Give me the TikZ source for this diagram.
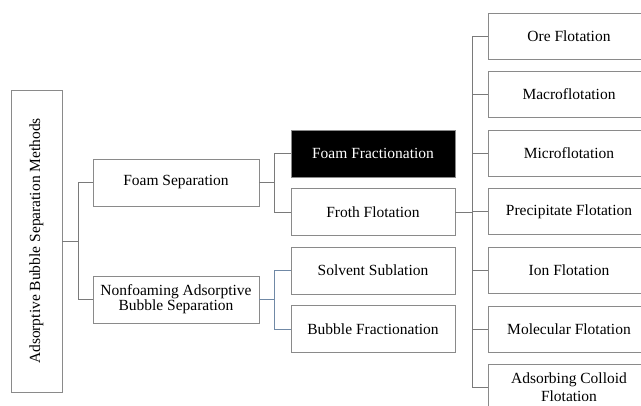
\documentclass[tikz,border=0pt]{standalone}
\usepackage{fontspec}
\setmainfont{Liberation Serif}
\definecolor{boxline}{HTML}{8A8A8A}
\definecolor{conn}{HTML}{7A7A7A}
\definecolor{blueconn}{HTML}{7089A6}
\begin{document}
\begin{tikzpicture}[x=1pt,y=-1pt,
  box/.style={draw=boxline, line width=0.9pt, inner sep=0pt, align=center,
    font=\fontsize{15.5}{15.5}\selectfont, text=black},
  midbox/.style={box, minimum width=166, minimum height=47},
  colbox/.style={box, minimum width=164, minimum height=47},
  rbox/.style={box, minimum width=162, minimum height=46},
  link/.style={draw=conn, line width=0.9pt},
  bluelink/.style={draw=blueconn, line width=0.9pt}]
\useasboundingbox (0,0) rectangle (641,406);
\clip (0,0) rectangle (641,406);
% nodes
\node[box, minimum width=51, minimum height=302] (L) at (36.5,241) {};
\node[rotate=90, inner sep=0pt, font=\fontsize{15.5}{16}\selectfont] (Lt) at (L.center) {Adsorptive Bubble Separation Methods};
\node[midbox] (FS) at (176,182.5) {Foam Separation};
\node[midbox] (NF) at (176,299.5) {Nonfoaming Adsorptive\\[-0.5pt]Bubble Separation};
\node[colbox, fill=black, text=white] (FF) at (373,153.5) {Foam Fractionation};
\node[colbox] (FrF) at (373,212) {Froth Flotation};
\node[colbox] (SS) at (373,270.5) {Solvent Sublation};
\node[colbox] (BF) at (373,329) {Bubble Fractionation};
\node[rbox] (R1) at (569,36) {Ore Flotation};
\node[rbox] (R2) at (569,94.5) {Macroflotation};
\node[rbox] (R3) at (569,153) {Microflotation};
\node[rbox] (R4) at (569,211.5) {Precipitate Flotation};
\node[rbox] (R5) at (569,270) {Ion Flotation};
\node[rbox] (R6) at (569,329) {Molecular Flotation};
\node[rbox] (R7) at (569,387) {Adsorbing Colloid\\[2pt]Flotation};
% junction coordinates
\coordinate (j1) at (78,0);
\coordinate (j2) at (274,0);
\coordinate (j3) at (472,0);
% connectors
\draw[link] (L.east) -- (L.east -| j1);
\draw[link] (FS.west) -- (FS.west -| j1) -- (NF.west -| j1) -- (NF.west);
\draw[link] (FS.east) -- (FS.east -| j2);
\draw[link] (FF.west) -- (FF.west -| j2) -- (FrF.west -| j2) -- (FrF.west);
\draw[bluelink] (NF.east) -- (NF.east -| j2);
\draw[bluelink] (SS.west) -- (SS.west -| j2) -- (BF.west -| j2) -- (BF.west);
\draw[link] (FrF.east) -- (FrF.east -| j3);
\draw[link] (R1.west) -- (R1.west -| j3) -- (R7.west -| j3) -- (R7.west);
\foreach \n in {R2,R3,R4,R5,R6} \draw[link] (\n.west) -- (\n.west -| j3);
\end{tikzpicture}
\end{document}
